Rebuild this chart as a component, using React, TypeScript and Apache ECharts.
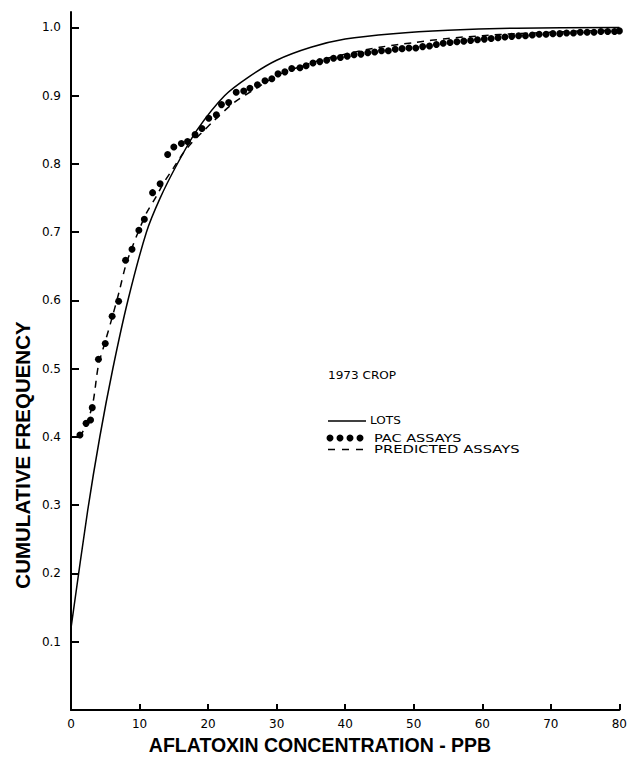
import React, { useEffect, useRef } from "react";
import * as echarts from "echarts";

// LOTS (solid curve)
const lotsX = [0, 2.4, 4.2, 6.1, 8.3, 11, 13, 15.5, 18.4, 22.4, 26, 30, 35, 40, 47, 55, 65, 80];
const lotsY = [0.12, 0.29, 0.4, 0.5, 0.6, 0.7, 0.75, 0.8, 0.85, 0.9, 0.928, 0.952, 0.971, 0.983, 0.991, 0.996, 0.999, 1.0];

// PAC ASSAYS (dots)
const pacX = [1.3, 2.2, 2.85, 3.1, 4.0, 5.0, 6.0, 6.95, 7.96, 8.9, 9.9, 10.7, 11.9, 13.0, 14.1, 15.0, 16.1, 17.0, 18.1, 19.1, 20.1, 21.2, 21.95, 23.0, 24.1, 25.2, 26.1, 27.2, 28.3, 29.3, 30.2, 31.2, 32.2, 33.4, 34.3, 35.3,
  36.3, 37.3, 38.3, 39.3, 40.3, 41.3, 42.3, 43.3, 44.3, 45.3, 46.3, 47.3, 48.3, 49.3, 50.3, 51.3, 52.3, 53.3, 54.3, 55.3, 56.3, 57.3, 58.3, 59.3, 60.3, 61.3, 62.3, 63.3, 64.3, 65.3, 66.3, 67.3, 68.3, 69.3, 70.3, 71.3, 72.3, 73.3, 74.3, 75.3, 76.3, 77.3, 78.3, 79.3, 80];
const pacY = [0.403, 0.42, 0.425, 0.443, 0.514, 0.537, 0.577, 0.599, 0.659, 0.675, 0.703, 0.719, 0.758, 0.771, 0.814, 0.825, 0.83, 0.833, 0.843, 0.852, 0.867, 0.872, 0.887, 0.89, 0.905, 0.907, 0.911, 0.916, 0.922, 0.925, 0.932, 0.935, 0.94, 0.941, 0.944, 0.948,
  0.95, 0.952, 0.955, 0.956, 0.958, 0.96, 0.961, 0.963, 0.964, 0.966, 0.966, 0.968, 0.969, 0.97, 0.97, 0.972, 0.973, 0.975, 0.977, 0.978, 0.979, 0.98, 0.981, 0.982, 0.983, 0.984, 0.985, 0.986, 0.987, 0.988, 0.988, 0.989, 0.99, 0.99, 0.991, 0.991, 0.992, 0.992, 0.993, 0.993, 0.993, 0.994, 0.994, 0.994, 0.995];

// PREDICTED ASSAYS (dashed curve)
const predX = [1.3, 2.3, 3.2, 4.0, 5.0, 6.0, 7.0, 8.0, 9.0, 10.0, 11.0, 12.3, 13.5, 15.0, 16.3, 17.7, 19.0, 20.7, 23.8, 27.2, 30.3, 33, 36, 40, 45, 50.1, 55, 60, 65, 70, 75, 80];
const predY = [0.40, 0.42, 0.45, 0.505, 0.54, 0.575, 0.612, 0.652, 0.68, 0.705, 0.728, 0.75, 0.772, 0.795, 0.815, 0.832, 0.845, 0.862, 0.89, 0.912, 0.931, 0.941, 0.951, 0.961, 0.971, 0.978, 0.984, 0.988, 0.991, 0.993, 0.995, 0.996];

const xTicks = [0, 10, 20, 30, 40, 50, 60, 70, 80];
const yTicks = [0.1, 0.2, 0.3, 0.4, 0.5, 0.6, 0.7, 0.8, 0.9, 1.0];

const xTitle = "AFLATOXIN CONCENTRATION - PPB";
const yTitle = "CUMULATIVE FREQUENCY";
const noteText = "1973 CROP";
const legendNames = ["LOTS", "PAC ASSAYS", "PREDICTED ASSAYS"];

const zip = (xs: number[], ys: number[]) => xs.map((x, i) => [x, ys[i]]);

export default function App() {
  const ref = useRef<HTMLDivElement>(null);
  useEffect(() => {
    if (!ref.current) return;
    const chart = echarts.init(ref.current, undefined, { renderer: "svg" });
    const tickFont = { fontFamily: "DejaVu Sans", fontSize: 12, color: "#000" };
    const legendText = (text: string, x: number, y: number, sx: number) => ({
      type: "text",
      x,
      y,
      scaleX: sx,
      style: { text, fontFamily: "DejaVu Sans", fontSize: 10.5, fill: "#000", textAlign: "left", textVerticalAlign: "middle" },
    });
    chart.setOption({
      animation: false,
      backgroundColor: "#fff",
      grid: { left: 71, right: 6, top: 12, bottom: 54, containLabel: false },
      xAxis: {
        type: "value",
        min: 0,
        max: 80,
        interval: 10,
        axisLine: { show: true, onZero: false, lineStyle: { color: "#000", width: 2 } },
        axisTick: { show: true, inside: true, length: 6, lineStyle: { color: "#000", width: 2 }, customValues: xTicks },
        axisLabel: { ...tickFont, margin: 8, customValues: xTicks, formatter: (v: number) => String(v) },
        splitLine: { show: false },
      },
      yAxis: {
        type: "value",
        min: 0,
        max: 1.0227,
        axisLine: { show: true, onZero: false, lineStyle: { color: "#000", width: 2 } },
        axisTick: { show: true, inside: true, length: 8, lineStyle: { color: "#000", width: 2 }, customValues: yTicks },
        axisLabel: { ...tickFont, margin: 10, customValues: yTicks, formatter: (v: number) => v.toFixed(1) },
        splitLine: { show: false },
      },
      series: [
        {
          name: legendNames[0],
          type: "line",
          data: zip(lotsX, lotsY),
          smooth: 0.3,
          showSymbol: false,
          lineStyle: { color: "#000", width: 1.5 },
          z: 2,
        },
        {
          name: legendNames[2],
          type: "line",
          data: zip(predX, predY),
          smooth: 0.3,
          showSymbol: false,
          lineStyle: { color: "#000", width: 1.5, type: [7, 6] },
          z: 2,
        },
        {
          name: legendNames[1],
          type: "scatter",
          data: zip(pacX, pacY),
          symbol: "circle",
          symbolSize: 7,
          itemStyle: { color: "#000", opacity: 1 },
          z: 3,
        },
      ],
      graphic: [
        {
          type: "text",
          x: 320,
          y: 745,
          style: { text: xTitle, fontFamily: "Liberation Sans", fontWeight: "bold", fontSize: 19.5, fill: "#000", textAlign: "center", textVerticalAlign: "middle" },
        },
        {
          type: "text",
          x: 22,
          y: 455,
          rotation: Math.PI / 2,
          style: { text: yTitle, fontFamily: "Liberation Sans", fontWeight: "bold", fontSize: 20.5, fill: "#000", textAlign: "center", textVerticalAlign: "middle" },
        },
        legendText(noteText, 328, 376, 1.15),
        { type: "line", shape: { x1: 328, y1: 421, x2: 366, y2: 421 }, style: { stroke: "#000", lineWidth: 1.5 } },
        legendText(legendNames[0], 370, 421, 1.15),
        { type: "circle", shape: { cx: 330, cy: 438, r: 3.5 }, style: { fill: "#000" } },
        { type: "circle", shape: { cx: 340, cy: 438, r: 3.5 }, style: { fill: "#000" } },
        { type: "circle", shape: { cx: 350, cy: 438, r: 3.5 }, style: { fill: "#000" } },
        { type: "circle", shape: { cx: 360, cy: 438, r: 3.5 }, style: { fill: "#000" } },
        legendText(legendNames[1], 374, 438, 1.38),
        { type: "line", shape: { x1: 328, y1: 449.5, x2: 364, y2: 449.5 }, style: { stroke: "#000", lineWidth: 1.5, lineDash: [7, 7] } },
        legendText(legendNames[2], 374, 449.5, 1.41),
      ],
    });
    return () => chart.dispose();
  }, []);
  return <div ref={ref} style={{ position: "fixed", left: 0, top: 0, width: 630, height: 764, background: "#fff" }} />;
}
